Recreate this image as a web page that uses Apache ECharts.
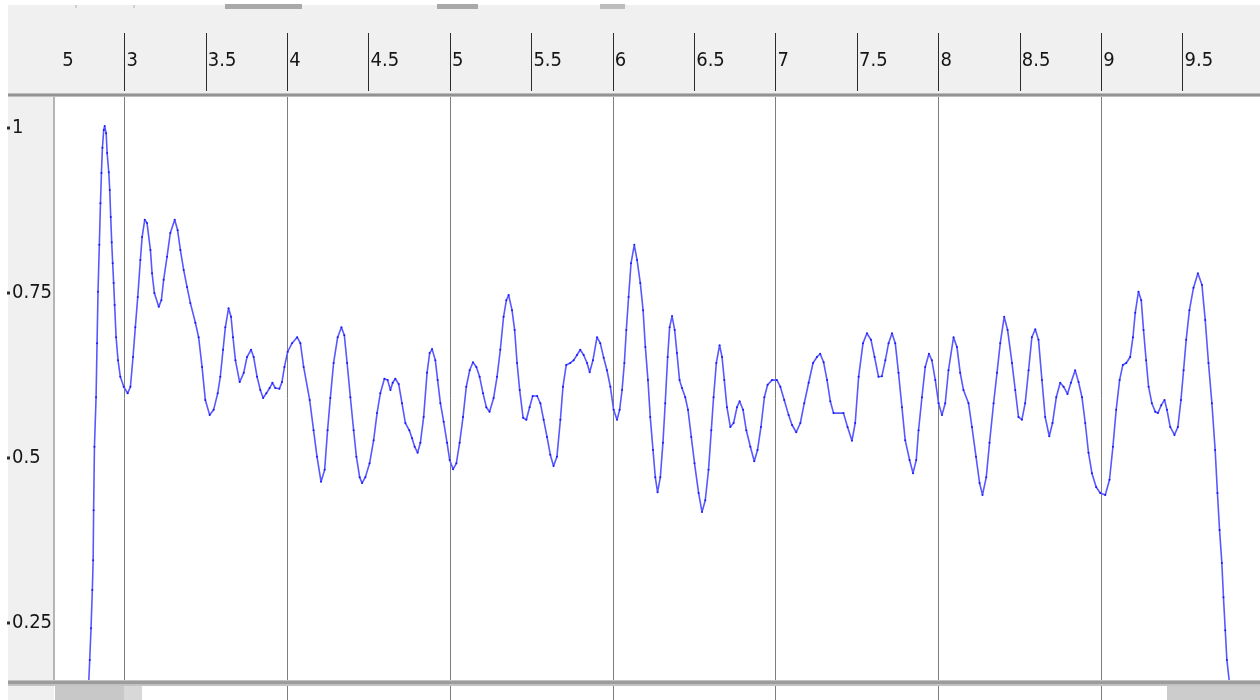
<!DOCTYPE html>
<html>
<head>
<meta charset="utf-8">
<script src="https://cdn.jsdelivr.net/npm/echarts@6/dist/echarts.min.js"></script>
<style>html,body{margin:0;padding:0;background:#f0f0f0;}#c{width:1260px;height:700px;}</style>
</head>
<body>
<div id="c"></div>
<script>
// time in seconds (x)
const timeSec = [2.767,2.781,2.787,2.795,2.803,2.808,2.811,2.816,2.826,2.832,2.838,2.846,2.853,2.859,2.865,2.873,2.879,2.888,2.894,2.904,2.910,2.916,2.922,2.928,2.934,2.940,2.949,2.961,2.975,2.996,3.020,3.037,3.053,3.067,3.082,3.098,3.109,3.125,3.139,3.160,3.170,3.184,3.211,3.227,3.241,3.262,3.282,3.309,3.327,3.344,3.364,3.385,3.405,3.436,3.456,3.477,3.497,3.524,3.548,3.573,3.589,3.606,3.620,3.640,3.655,3.667,3.682,3.708,3.733,3.753,3.778,3.794,3.815,3.835,3.852,3.872,3.892,3.909,3.927,3.952,3.968,3.983,4.003,4.030,4.061,4.081,4.101,4.138,4.162,4.183,4.208,4.230,4.248,4.265,4.285,4.310,4.333,4.351,4.368,4.388,4.408,4.425,4.445,4.460,4.480,4.506,4.531,4.552,4.572,4.597,4.617,4.634,4.648,4.664,4.685,4.705,4.726,4.750,4.767,4.783,4.801,4.818,4.838,4.859,4.875,4.890,4.910,4.924,4.941,4.961,4.982,4.998,5.019,5.039,5.059,5.080,5.100,5.121,5.141,5.162,5.182,5.203,5.223,5.243,5.268,5.289,5.309,5.329,5.346,5.360,5.381,5.397,5.412,5.428,5.449,5.469,5.489,5.508,5.535,5.555,5.575,5.596,5.616,5.636,5.657,5.678,5.694,5.714,5.739,5.759,5.780,5.800,5.821,5.842,5.858,5.878,5.903,5.923,5.944,5.964,5.985,6.005,6.026,6.042,6.057,6.071,6.083,6.097,6.112,6.132,6.149,6.169,6.186,6.200,6.216,6.230,6.247,6.261,6.275,6.292,6.308,6.322,6.337,6.349,6.364,6.380,6.394,6.410,6.425,6.445,6.462,6.482,6.502,6.527,6.548,6.568,6.588,6.605,6.619,6.636,6.656,6.671,6.685,6.701,6.722,6.742,6.763,6.779,6.800,6.820,6.845,6.869,6.889,6.910,6.931,6.951,6.978,7.008,7.029,7.053,7.080,7.101,7.127,7.152,7.176,7.203,7.230,7.254,7.274,7.295,7.316,7.336,7.356,7.417,7.442,7.469,7.489,7.510,7.537,7.561,7.586,7.608,7.632,7.653,7.674,7.694,7.715,7.735,7.755,7.776,7.796,7.823,7.844,7.864,7.878,7.899,7.919,7.942,7.960,7.981,8.001,8.022,8.042,8.062,8.093,8.114,8.134,8.154,8.185,8.206,8.231,8.253,8.271,8.294,8.314,8.339,8.360,8.380,8.404,8.425,8.452,8.472,8.492,8.513,8.533,8.554,8.574,8.595,8.615,8.636,8.656,8.681,8.701,8.724,8.748,8.769,8.793,8.814,8.840,8.861,8.882,8.902,8.922,8.943,8.969,8.994,9.025,9.051,9.072,9.092,9.113,9.133,9.154,9.178,9.195,9.209,9.229,9.246,9.260,9.276,9.291,9.311,9.332,9.348,9.369,9.389,9.404,9.424,9.450,9.471,9.490,9.506,9.522,9.542,9.567,9.594,9.619,9.639,9.659,9.680,9.700,9.714,9.727,9.741,9.751,9.762,9.772,9.788,9.798];

// amplitude (y)
const amplitude = [0.133,0.161,0.194,0.242,0.300,0.345,0.421,0.517,0.592,0.674,0.752,0.823,0.886,0.932,0.970,0.997,1.003,0.992,0.962,0.933,0.906,0.865,0.827,0.795,0.765,0.732,0.683,0.648,0.623,0.608,0.598,0.608,0.653,0.698,0.744,0.800,0.835,0.861,0.856,0.815,0.780,0.750,0.729,0.739,0.770,0.805,0.841,0.861,0.845,0.815,0.785,0.759,0.735,0.705,0.683,0.638,0.588,0.565,0.573,0.598,0.623,0.664,0.698,0.727,0.714,0.683,0.648,0.615,0.629,0.653,0.664,0.653,0.623,0.603,0.591,0.598,0.606,0.614,0.606,0.605,0.615,0.638,0.661,0.674,0.683,0.674,0.638,0.588,0.542,0.502,0.464,0.482,0.542,0.591,0.644,0.683,0.698,0.686,0.644,0.592,0.542,0.502,0.471,0.462,0.471,0.492,0.527,0.568,0.598,0.620,0.618,0.603,0.614,0.620,0.612,0.583,0.553,0.542,0.530,0.517,0.508,0.523,0.562,0.629,0.659,0.665,0.648,0.618,0.583,0.555,0.523,0.497,0.483,0.492,0.523,0.562,0.608,0.633,0.645,0.638,0.623,0.598,0.577,0.570,0.591,0.623,0.664,0.714,0.739,0.747,0.724,0.694,0.644,0.603,0.561,0.558,0.577,0.594,0.594,0.583,0.558,0.532,0.505,0.488,0.502,0.558,0.608,0.641,0.644,0.648,0.656,0.664,0.656,0.644,0.630,0.648,0.683,0.674,0.652,0.633,0.608,0.573,0.558,0.573,0.603,0.644,0.694,0.744,0.795,0.823,0.800,0.765,0.724,0.668,0.618,0.562,0.512,0.471,0.448,0.471,0.523,0.583,0.653,0.698,0.715,0.694,0.659,0.618,0.606,0.592,0.573,0.532,0.492,0.447,0.418,0.436,0.482,0.542,0.592,0.644,0.671,0.653,0.618,0.577,0.547,0.553,0.577,0.586,0.573,0.542,0.517,0.495,0.512,0.547,0.592,0.611,0.618,0.618,0.608,0.588,0.565,0.550,0.539,0.553,0.583,0.614,0.644,0.653,0.658,0.645,0.618,0.586,0.568,0.568,0.547,0.526,0.553,0.623,0.674,0.689,0.679,0.653,0.623,0.624,0.648,0.674,0.689,0.674,0.629,0.577,0.527,0.497,0.477,0.497,0.542,0.592,0.638,0.658,0.648,0.618,0.583,0.565,0.583,0.633,0.683,0.668,0.629,0.603,0.583,0.547,0.502,0.462,0.444,0.471,0.523,0.583,0.629,0.674,0.714,0.694,0.644,0.603,0.562,0.558,0.583,0.633,0.683,0.695,0.679,0.618,0.562,0.533,0.553,0.592,0.614,0.608,0.597,0.614,0.633,0.615,0.592,0.553,0.508,0.477,0.456,0.447,0.444,0.467,0.517,0.573,0.618,0.641,0.644,0.653,0.683,0.720,0.752,0.739,0.694,0.648,0.608,0.583,0.570,0.568,0.580,0.588,0.573,0.547,0.535,0.547,0.588,0.633,0.679,0.724,0.758,0.780,0.762,0.709,0.644,0.583,0.512,0.447,0.391,0.341,0.289,0.239,0.194,0.159,0.133];

// axis ranges and tick labels
const xRange = [2.5, 10];
const xStep = 0.5;
const yRange = [0.1333, 1.047];
const yTickValues = [0.25, 0.5, 0.75, 1];

const n = Math.min(timeSec.length, amplitude.length);
if (timeSec.length !== amplitude.length) console.error('length mismatch', timeSec.length, amplitude.length);
const points = [];
for (let i = 0; i < n; i++) points.push([timeSec[i], amplitude[i]]);

const labelFont = '"Liberation Sans Narrow", "DejaVu Sans Condensed", "Liberation Sans", sans-serif';

const chart = echarts.init(document.getElementById('c'), null, {renderer: 'canvas'});
chart.setOption({
  backgroundColor: '#f0f0f0',
  animation: false,
  grid: {
    left: 43, top: 97, width: 1221, bottom: 0,
    outerBoundsMode: 'none', containLabel: false,
    show: true, backgroundColor: '#ffffff', borderWidth: 0
  },
  xAxis: {
    type: 'value', position: 'top', min: xRange[0], max: xRange[1], interval: xStep,
    offset: 6, z: 0,
    axisLine: {show: false},
    axisTick: {show: true, length: 58, lineStyle: {color: '#2b2b2b', width: 1}},
    axisLabel: {
      show: true, align: 'left', verticalAlign: 'middle', margin: 30,
      padding: [0, 0, 0, 2],
      fontFamily: labelFont, fontSize: 20, color: '#151515',
      formatter: v => String(v)
    },
    splitLine: {show: true, lineStyle: {color: ['rgba(0,0,0,0)', '#7d7d7d'], width: 1}}
  },
  yAxis: {
    type: 'value', min: yRange[0], max: yRange[1], z: 5,
    axisLine: {show: false},
    axisTick: {show: false},
    splitLine: {show: false},
    axisLabel: {
      show: true, customValues: yTickValues, align: 'left', margin: 36,
      formatter: v => '{d|}{t|' + String(v) + '}',
      rich: {
        d: {width: 3, height: 3, backgroundColor: '#2b2b2b', verticalAlign: 'middle'},
        t: {fontFamily: labelFont, fontSize: 20, color: '#151515', padding: [0, 0, 0, 2], verticalAlign: 'middle'}
      }
    }
  },
  series: [{
    type: 'line', data: points, clip: true, smooth: false,
    showSymbol: true, showAllSymbol: true, symbol: 'circle', symbolSize: 2,
    itemStyle: {color: '#1818ff'},
    lineStyle: {color: '#5858ff', width: 1.6},
    emphasis: {disabled: true}, z: 2
  }],
  graphic: [
    {type: 'rect', shape: {x: 0, y: 0, width: 1260, height: 5}, style: {fill: '#ffffff'}, z: 1},
    {type: 'rect', shape: {x: 0, y: 0, width: 8, height: 700}, style: {fill: '#ffffff'}, z: 1},
    {type: 'rect', shape: {x: 225, y: 4, width: 77, height: 5}, style: {fill: '#a9a9a9'}, z: 1},
    {type: 'rect', shape: {x: 437, y: 4, width: 41, height: 5}, style: {fill: '#a9a9a9'}, z: 1},
    {type: 'rect', shape: {x: 600, y: 4, width: 25, height: 5}, style: {fill: '#bdbdbd'}, z: 1},
    {type: 'rect', shape: {x: 44, y: 5, width: 2, height: 3}, style: {fill: '#d0d0d0'}, z: 1},
    {type: 'rect', shape: {x: 75, y: 5, width: 2, height: 3}, style: {fill: '#d0d0d0'}, z: 1},
    {type: 'rect', shape: {x: 133, y: 5, width: 2, height: 3}, style: {fill: '#d0d0d0'}, z: 1},
    // cover top-left of ruler
    {type: 'rect', shape: {x: 8, y: 5, width: 53, height: 88}, style: {fill: '#f0f0f0'}, z: 1},
    // ruler bottom border
    {type: 'rect', shape: {x: 8, y: 93, width: 1252, height: 4}, style: {fill: '#bdbdbd'}, z: 1},
    {type: 'rect', shape: {x: 8, y: 94, width: 1252, height: 2}, style: {fill: '#929292'}, z: 1},
    // left panel
    {type: 'rect', shape: {x: 8, y: 97, width: 46, height: 603}, style: {fill: '#f0f0f0'}, z: 1},
    {type: 'rect', shape: {x: 53, y: 97, width: 2, height: 589}, style: {fill: '#b5b5b5'}, z: 1},
    // bottom border
    {type: 'rect', shape: {x: 8, y: 680, width: 1252, height: 6}, style: {fill: '#c2c2c2'}, z: 3},
    {type: 'rect', shape: {x: 8, y: 681, width: 1252, height: 3}, style: {fill: '#9c9c9c'}, z: 3},
    // scrollbar thumbs
    {type: 'rect', shape: {x: 55, y: 686, width: 69, height: 14}, style: {fill: '#c8c8c8'}, z: 3},
    {type: 'rect', shape: {x: 124, y: 686, width: 18, height: 14}, style: {fill: '#d8d8d8'}, z: 3},
    {type: 'rect', shape: {x: 1167, y: 686, width: 93, height: 14}, style: {fill: '#cccccc'}, z: 3}
  ]
});
</script>
</body>
</html>
